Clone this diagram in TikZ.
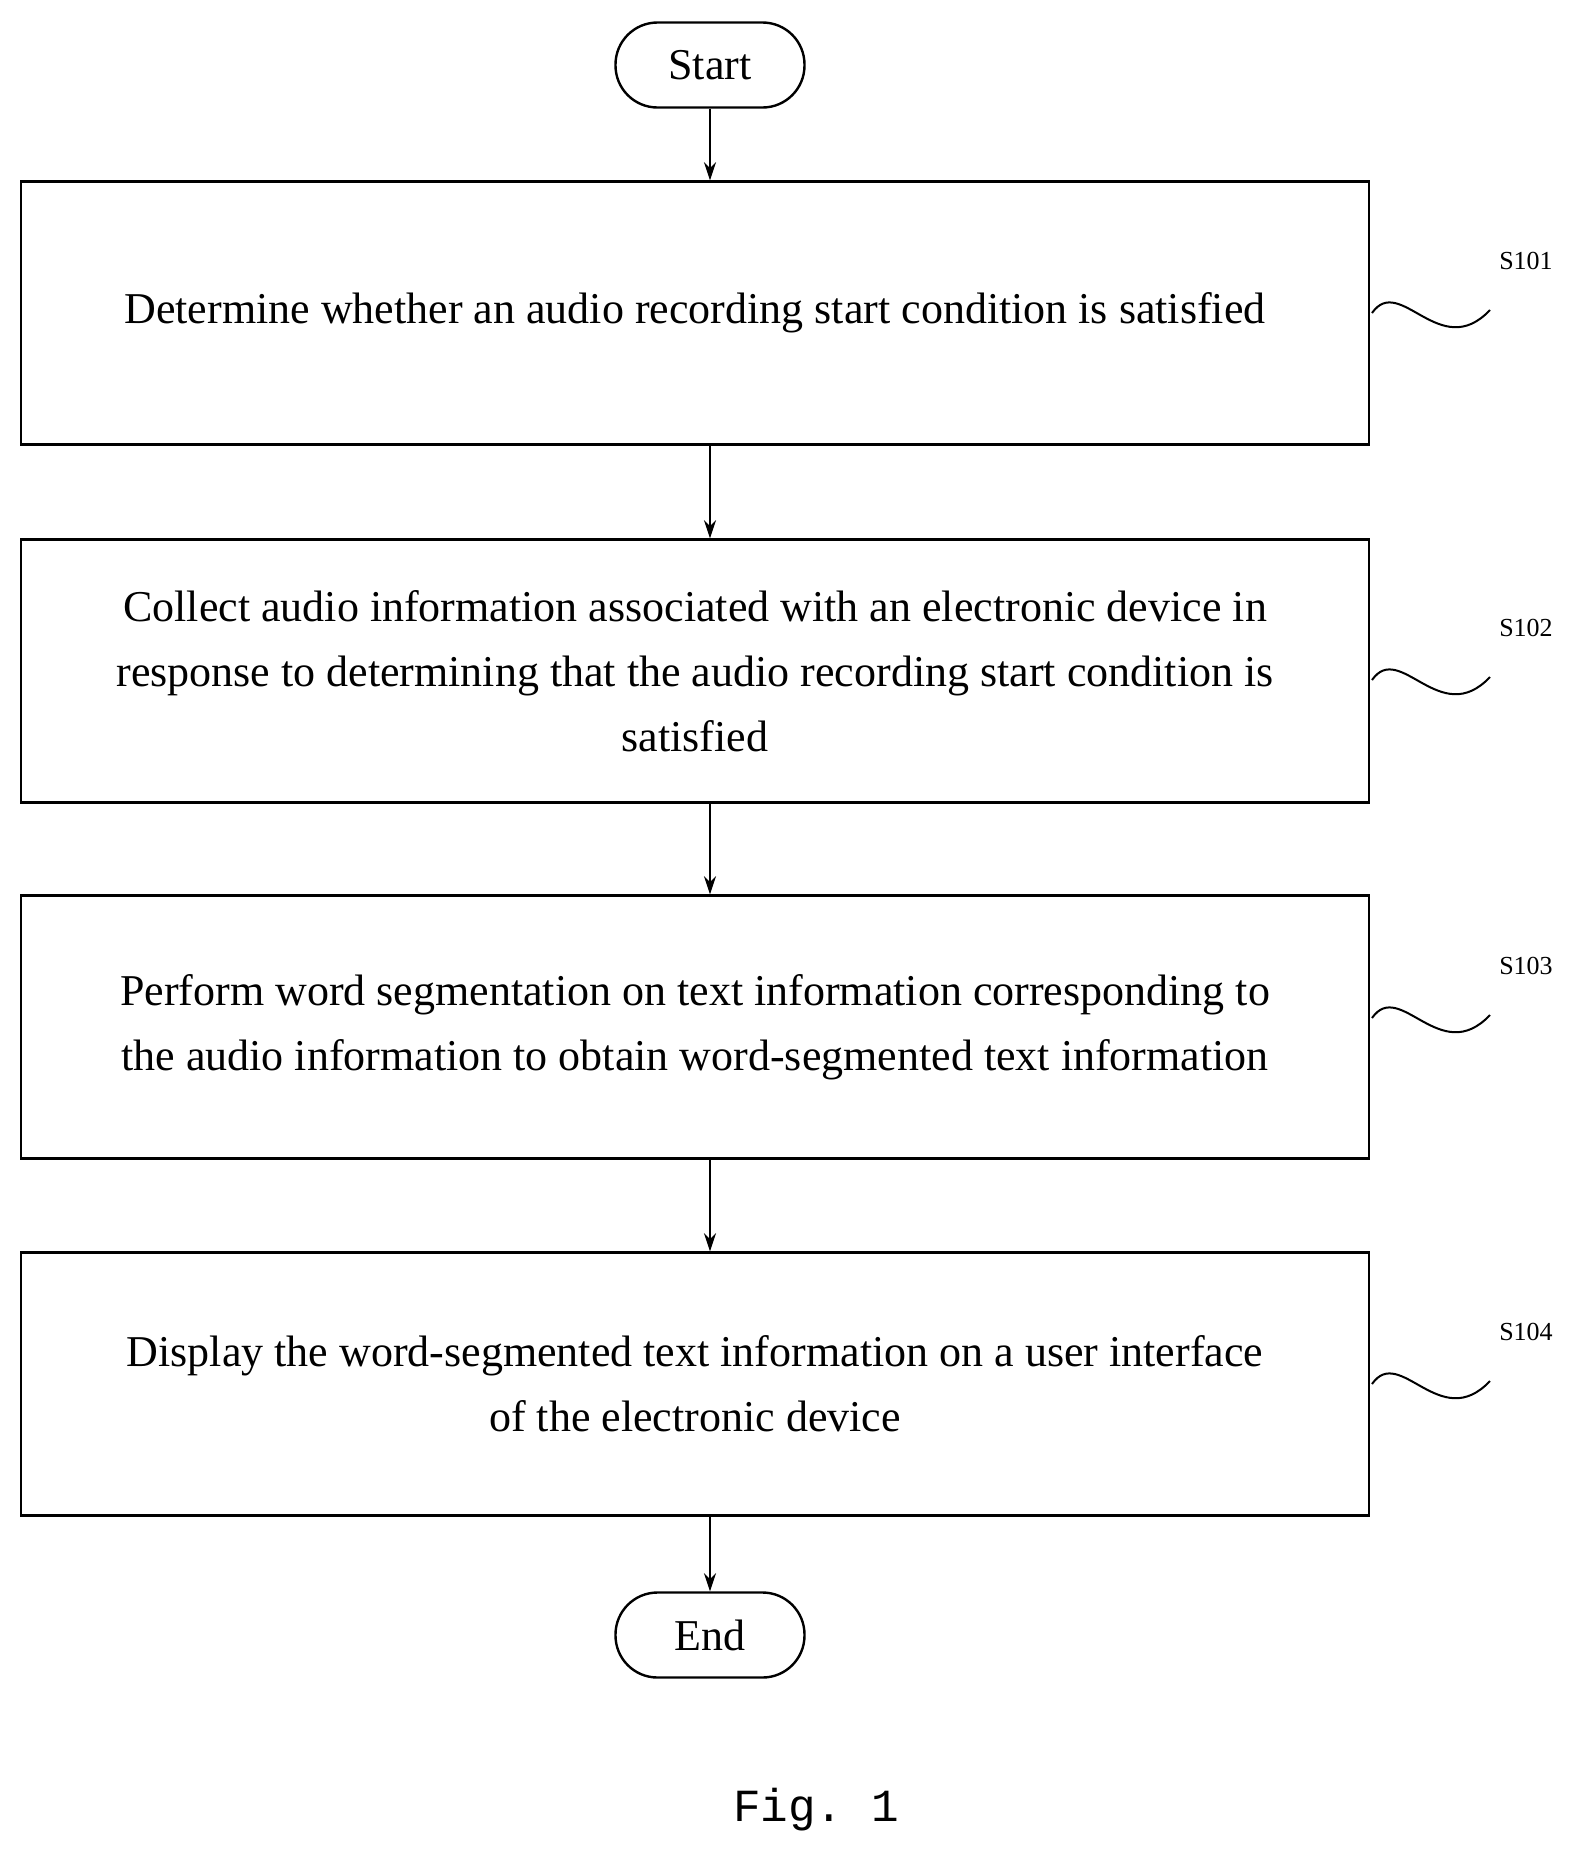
\documentclass[tikz,border=0pt]{standalone}
\usepackage{fontspec}
\setmainfont{Liberation Serif}
\setmonofont{Liberation Mono}
\usetikzlibrary{arrows.meta}
\tikzstyle{every node}=[thick]
\tikzstyle{proc}=[draw,line width=1.2pt,minimum width=674pt,minimum height=131.5pt,align=center,font=\fontsize{22}{32.5}\selectfont]
\tikzstyle{term}=[draw,line width=1.2pt,rounded corners=21pt,minimum width=94.5pt,minimum height=42.5pt,font=\fontsize{22}{26}\selectfont]
\tikzstyle{flow}=[-{Stealth[length=9pt,width=6pt]},line width=1.2pt]
\tikzstyle{tag}=[font=\fontsize{13}{15}\selectfont]
\begin{document}
\begin{tikzpicture}[x=0.5pt,y=-0.5pt]
\useasboundingbox (0,0) rectangle (1574,1849);
\node[term] (start) at (710,65) {Start};
\node[proc] (s1) at (695,313) {Determine whether an audio recording start condition is satisfied};
\node[proc] (s2) at (695,671) {Collect audio information associated with an electronic device in\\response to determining that the audio recording start condition is\\satisfied};
\node[proc] (s3) at (695,1027) {Perform word segmentation on text information corresponding to\\the audio information to obtain word-segmented text information};
\node[proc] (s4) at (695,1384) {Display the word-segmented text information on a user interface\\of the electronic device};
\node[term] (end) at (710,1635) {End};
\node[font=\ttfamily\fontsize{23}{26}\selectfont] (fig) at (816,1810) {Fig. 1};
% step labels
\foreach \n/\y in {1/313,2/680,3/1018,4/1384}{
  \node[tag] (l\n) at (1526,\y-52) {S10\n};
  \coordinate (wa\n) at (1372,\y);
  \coordinate (wb\n) at (1490,\y-3);
  \draw[line width=1pt] (wa\n) .. controls (1400,\y-40) and (1440,\y+50) .. (wb\n);
}
\draw[flow] (start) -- (s1.north -| start);
\draw[flow] (s1.south -| start) -- (s2.north -| start);
\draw[flow] (s2.south -| start) -- (s3.north -| start);
\draw[flow] (s3.south -| start) -- (s4.north -| start);
\draw[flow] (s4.south -| start) -- (end);
\end{tikzpicture}
\end{document}
